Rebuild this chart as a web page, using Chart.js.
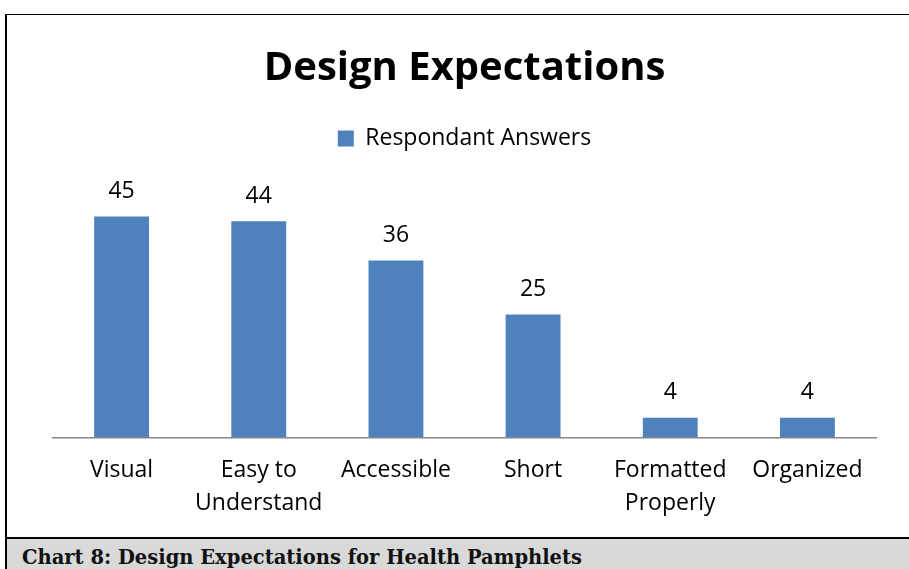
<!DOCTYPE html>
<html>
<head>
<meta charset="utf-8">
<script src="https://cdn.jsdelivr.net/npm/chart.js@4"></script>
<style>
  html, body { margin: 0; padding: 0; background: #fff; }
  #page { position: relative; width: 909px; height: 569px; overflow: hidden; }
  #frame { position: absolute; left: 5px; top: 14px; width: 904px; height: 523px;
           border-top: 1px solid #000; border-left: 2px solid #000; box-sizing: border-box; }
  #wrap { position: absolute; left: 6px; top: 15px; width: 899px; height: 521px; }
  #caption { position: absolute; left: 5px; top: 537px; width: 904px; height: 32px;
             border-top: 2px solid #000; border-left: 2px solid #000; box-sizing: border-box;
             background: #d9d9d9; font-family: "DejaVu Serif", serif; font-weight: bold;
             font-size: 19.5px; line-height: 20px; padding-top: 9px; padding-left: 15px; color: #111; }
</style>
</head>
<body>
<div id="page">
  <div id="frame"></div>
  <div id="wrap"><canvas id="chart" width="899" height="521"></canvas></div>
  <div id="caption">Chart 8: Design Expectations for Health Pamphlets</div>
</div>
<script>
// datos del grafico
const categorias = [["Visual"], ["Easy to", "Understand"], ["Accessible"], ["Short"], ["Formatted", "Properly"], ["Organized"]];
const respuestas = [45, 44, 36, 25, 4, 4];
const nombreSerie = "Respondant Answers";
const titulo = "Design Expectations";

const fuente = "'Open Sans', Lato, sans-serif";

// etiquetas de valor encima de cada barra
const etiquetasValor = {
  id: "etiquetasValor",
  afterDatasetsDraw(chart) {
    const ctx = chart.ctx;
    const meta = chart.getDatasetMeta(0);
    ctx.save();
    ctx.font = "23px " + fuente;
    ctx.fillStyle = "#000";
    ctx.textAlign = "center";
    ctx.textBaseline = "middle";
    meta.data.forEach((bar, i) => {
      ctx.fillText(String(respuestas[i]), bar.x, bar.y - 25);
    });
    ctx.restore();
  }
};

const ctx = document.getElementById("chart").getContext("2d");
new Chart(ctx, {
  type: "bar",
  data: {
    labels: categorias,
    datasets: [{
      label: nombreSerie,
      data: respuestas,
      backgroundColor: "#4f81bd",
      categoryPercentage: 1,
      barPercentage: 0.4
    }]
  },
  options: {
    responsive: false,
    animation: false,
    devicePixelRatio: 1,
    layout: { padding: { left: 47, right: 29, top: 0, bottom: 0 } },
    plugins: {
      title: {
        display: true,
        text: titulo,
        color: "#000",
        font: { family: fuente, size: 40, weight: "bold" },
        padding: { top: 30, bottom: 28 }
      },
      legend: {
        display: true,
        labels: {
          color: "#000",
          font: { family: fuente, size: 23 },
          boxWidth: 16,
          boxHeight: 16,
          padding: 6
        }
      },
      tooltip: { enabled: false }
    },
    scales: {
      x: {
        grid: { display: false, drawTicks: false },
        border: { display: true, color: "#868686", width: 1.5 },
        ticks: {
          color: "#000",
          font: { family: fuente, size: 23, lineHeight: 1.45 },
          padding: 16,
          maxRotation: 0
        }
      },
      y: {
        display: false,
        min: 0,
        max: 56.5
      }
    }
  },
  plugins: [etiquetasValor]
});
</script>
</body>
</html>
